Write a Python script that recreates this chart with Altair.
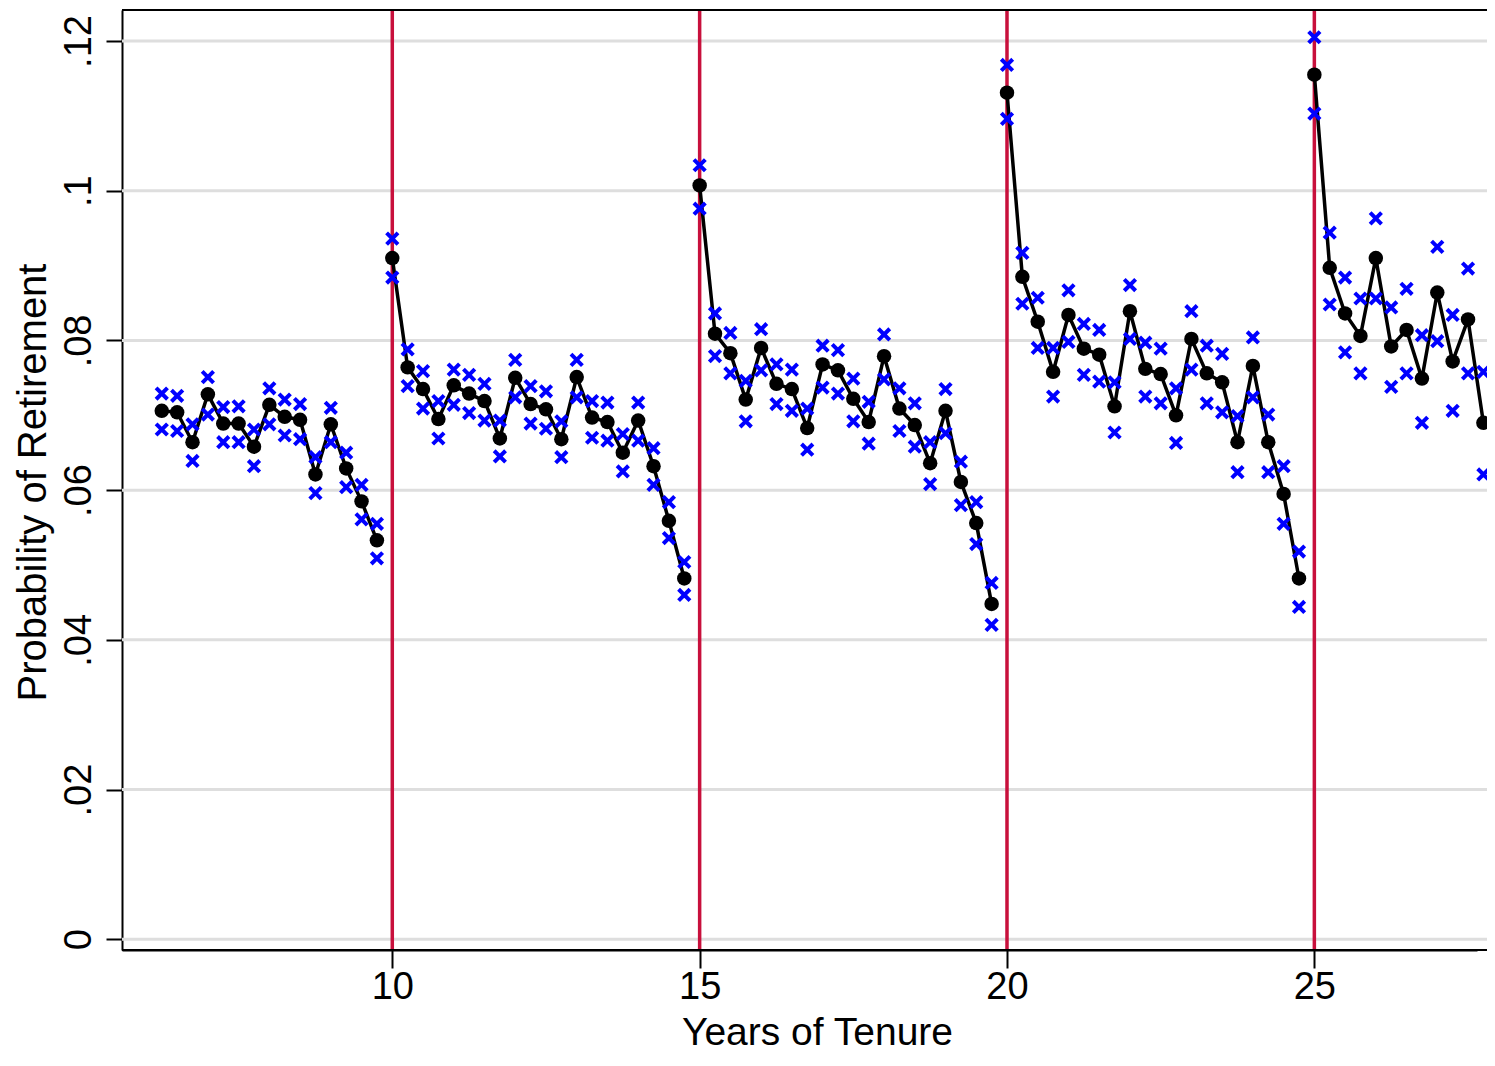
import altair as alt
import pandas as pd

# quarterly tenure points, one list per 5-year band
tenure_a = [6.25, 6.5, 6.75, 7.0, 7.25, 7.5, 7.75, 8.0, 8.25, 8.5, 8.75, 9.0, 9.25, 9.5, 9.75]
tenure_b = [10.0, 10.25, 10.5, 10.75, 11.0, 11.25, 11.5, 11.75, 12.0, 12.25,
            12.5, 12.75, 13.0, 13.25, 13.5, 13.75, 14.0, 14.25, 14.5, 14.75]
tenure_c = [15.0, 15.25, 15.5, 15.75, 16.0, 16.25, 16.5, 16.75, 17.0, 17.25,
            17.5, 17.75, 18.0, 18.25, 18.5, 18.75, 19.0, 19.25, 19.5, 19.75]
tenure_d = [20.0, 20.25, 20.5, 20.75, 21.0, 21.25, 21.5, 21.75, 22.0, 22.25,
            22.5, 22.75, 23.0, 23.25, 23.5, 23.75, 24.0, 24.25, 24.5, 24.75]
tenure_e = [25.0, 25.25, 25.5, 25.75, 26.0, 26.25, 26.5, 26.75, 27.0, 27.25, 27.5, 27.75]

# point estimates
prob_a = [0.0706, 0.0704, 0.0664, 0.0728, 0.0689, 0.0689, 0.0658, 0.0714, 0.0698, 0.0694,
          0.0621, 0.0688, 0.0629, 0.0585, 0.0533]
prob_b = [0.0910, 0.0764, 0.0735, 0.0695, 0.0740, 0.0729, 0.0719, 0.0669, 0.0750, 0.0715,
          0.0708, 0.0668, 0.0751, 0.0697, 0.0691, 0.0650, 0.0693, 0.0632, 0.0559, 0.0482]
prob_c = [0.1007, 0.0809, 0.0783, 0.0721, 0.0790, 0.0742, 0.0735, 0.0683, 0.0768, 0.0760,
          0.0722, 0.0691, 0.0779, 0.0709, 0.0687, 0.0636, 0.0706, 0.0611, 0.0556, 0.0448]
prob_d = [0.1131, 0.0885, 0.0825, 0.0758, 0.0834, 0.0789, 0.0781, 0.0712, 0.0839, 0.0762,
          0.0755, 0.0700, 0.0802, 0.0756, 0.0744, 0.0664, 0.0766, 0.0664, 0.0595, 0.0482]
prob_e = [0.1155, 0.0897, 0.0836, 0.0806, 0.0910, 0.0792, 0.0814, 0.0749, 0.0864, 0.0772,
          0.0828, 0.0690]

# upper confidence bounds
hi_a = [0.0729, 0.0726, 0.0688, 0.0751, 0.0711, 0.0712, 0.0681, 0.0736, 0.0721, 0.0715,
        0.0644, 0.0710, 0.0650, 0.0607, 0.0555]
hi_b = [0.0936, 0.0788, 0.0759, 0.0719, 0.0761, 0.0754, 0.0742, 0.0693, 0.0774, 0.0739,
        0.0732, 0.0692, 0.0774, 0.0719, 0.0717, 0.0675, 0.0717, 0.0656, 0.0584, 0.0504]
hi_c = [0.1034, 0.0836, 0.0810, 0.0746, 0.0815, 0.0768, 0.0761, 0.0709, 0.0793, 0.0787,
        0.0749, 0.0718, 0.0808, 0.0736, 0.0716, 0.0664, 0.0735, 0.0638, 0.0584, 0.0476]
hi_d = [0.1168, 0.0917, 0.0857, 0.0790, 0.0867, 0.0822, 0.0814, 0.0744, 0.0874, 0.0797,
        0.0789, 0.0736, 0.0839, 0.0793, 0.0782, 0.0699, 0.0804, 0.0701, 0.0632, 0.0518]
hi_e = [0.1205, 0.0944, 0.0884, 0.0856, 0.0963, 0.0844, 0.0869, 0.0807, 0.0925, 0.0834,
        0.0896, 0.0758]

# lower confidence bounds
lo_a = [0.0681, 0.0679, 0.0639, 0.0701, 0.0664, 0.0664, 0.0632, 0.0688, 0.0673, 0.0668,
        0.0596, 0.0664, 0.0604, 0.0561, 0.0509]
lo_b = [0.0884, 0.0739, 0.0709, 0.0669, 0.0714, 0.0703, 0.0693, 0.0645, 0.0724, 0.0689,
        0.0682, 0.0644, 0.0724, 0.0670, 0.0666, 0.0625, 0.0666, 0.0607, 0.0536, 0.0460]
lo_c = [0.0976, 0.0779, 0.0756, 0.0692, 0.0760, 0.0715, 0.0706, 0.0654, 0.0737, 0.0729,
        0.0692, 0.0662, 0.0748, 0.0679, 0.0658, 0.0608, 0.0676, 0.0580, 0.0528, 0.0420]
lo_d = [0.1096, 0.0849, 0.0790, 0.0725, 0.0798, 0.0754, 0.0745, 0.0677, 0.0802, 0.0725,
        0.0716, 0.0663, 0.0761, 0.0716, 0.0704, 0.0624, 0.0724, 0.0624, 0.0555, 0.0444]
lo_e = [0.1103, 0.0848, 0.0784, 0.0756, 0.0856, 0.0738, 0.0756, 0.0690, 0.0799, 0.0706,
        0.0756, 0.0621]

cutoffs = [10, 15, 20, 25]
x_ticks = [10, 15, 20, 25]
y_ticks = [0, 0.02, 0.04, 0.06, 0.08, 0.1, 0.12]

# plot area and the room around it (the whole page must stay inside 1479x1050)
W, H = 1355, 940
PAD_L, PAD_T, PAD_R, PAD_B = 114, 2, 10, 106
FONT = "Liberation Sans"

bands = [
    ("a", tenure_a, prob_a, hi_a, lo_a),
    ("b", tenure_b, prob_b, hi_b, lo_b),
    ("c", tenure_c, prob_c, hi_c, lo_c),
    ("d", tenure_d, prob_d, hi_d, lo_d),
    ("e", tenure_e, prob_e, hi_e, lo_e),
]
rows = []
for band, ts, ps, his, los in bands:
    for t, p, h, l in zip(ts, ps, his, los):
        rows.append({"band": band, "tenure": t, "prob": p, "hi": h, "lo": l})
df = pd.DataFrame(rows)

ci = df.melt(id_vars=["band", "tenure"], value_vars=["hi", "lo"],
             var_name="bound", value_name="ci")

x_scale = alt.Scale(domain=[5.603, 27.646], nice=False, zero=False)
y_scale = alt.Scale(domain=[-0.00143, 0.12414], nice=False, zero=False)

x_axis = alt.Axis(
    values=x_ticks, grid=False, format="d",
    domainColor="black", domainWidth=2,
    tickColor="black", tickWidth=2, tickSize=18,
    labelFont=FONT, labelFontSize=38, labelColor="black",
    labelBaseline="alphabetic", labelPadding=30, labelFlush=False,
    title="Years of Tenure", titleFont=FONT, titleFontSize=39,
    titleFontWeight="normal", titleColor="black",
    titleBaseline="alphabetic", titleY=94, titleX=695, titleAlign="center",
)
y_axis = alt.Axis(
    values=y_ticks, grid=False,
    labelExpr="datum.value == 0 ? '0' : replace(format(datum.value, '.2~f'), '0.', '.')",
    domainColor="black", domainWidth=2,
    tickColor="black", tickWidth=2, tickSize=16,
    labelFont=FONT, labelFontSize=38, labelColor="black",
    labelAngle=-90, labelAlign="center", labelBaseline="alphabetic",
    labelPadding=16, labelFlush=False, labelOverlap=False,
    title="Probability of Retirement", titleFont=FONT, titleFontSize=40,
    titleFontWeight="normal", titleColor="black",
    titleAngle=-90, titleAlign="center", titleBaseline="alphabetic",
    titleX=-77, titleY=472,
)

base = alt.Chart(df)

# gridlines run on past the plot edge, as in the cropped original
grid = alt.Chart(pd.DataFrame({"g": y_ticks})).mark_rule(
    color="#dedede", strokeWidth=3
).encode(y=alt.Y("g:Q", scale=y_scale), x=alt.value(0), x2=alt.value(W + PAD_R))

frame = base.mark_line(opacity=0).encode(
    x=alt.X("tenure:Q", scale=x_scale, axis=x_axis),
    y=alt.Y("prob:Q", scale=y_scale, axis=y_axis),
)

cut_rules = alt.Chart(pd.DataFrame({"cut": cutoffs})).mark_rule(
    color="#c8103c", strokeWidth=3.5
).encode(x=alt.X("cut:Q", scale=x_scale))

line = base.mark_line(color="black", strokeWidth=3.5).encode(
    x=alt.X("tenure:Q", scale=x_scale),
    y=alt.Y("prob:Q", scale=y_scale),
    detail="band:N",
)

dots = base.mark_circle(color="black", size=210, opacity=1).encode(
    x=alt.X("tenure:Q", scale=x_scale),
    y=alt.Y("prob:Q", scale=y_scale),
)

crosses = alt.Chart(ci).mark_point(
    shape="M-1,-1L1,1M-1,1L1,-1", filled=False, color="#0000ff",
    strokeWidth=4, size=130, opacity=1
).encode(
    x=alt.X("tenure:Q", scale=x_scale),
    y=alt.Y("ci:Q", scale=y_scale),
)

edges = alt.Chart(pd.DataFrame({"edge": ["top", "bottom"], "pos": [0, H]})).mark_rule(
    color="black", strokeWidth=2
).encode(
    x=alt.value(0), x2=alt.value(W + PAD_R),
    y=alt.Y("pos:Q", scale=None),
)

chart = alt.layer(grid, frame, cut_rules, line, dots, crosses, edges).properties(
    width=W, height=H,
    autosize=alt.AutoSizeParams(type="none"),
    padding={"left": PAD_L, "top": PAD_T, "right": PAD_R, "bottom": PAD_B},
    background="white",
).configure_view(strokeWidth=0)

chart.save("out.html", embed_options={"renderer": "svg", "actions": False})
